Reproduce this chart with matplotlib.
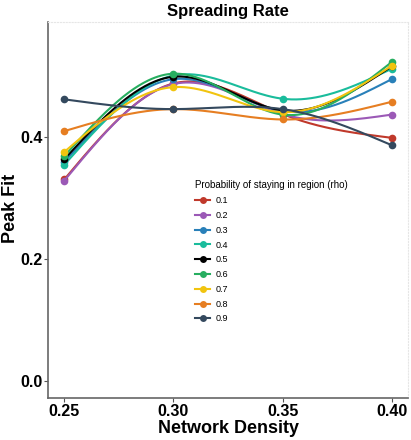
import numpy as np
import matplotlib
matplotlib.use('Agg')
from matplotlib import pyplot as plt
from matplotlib.lines import Line2D

plt.rcParams['font.family'] = ['Liberation Sans', 'DejaVu Sans']

density = [0.25, 0.30, 0.35, 0.40]
rho_labels = ['0.1', '0.2', '0.3', '0.4', '0.5', '0.6', '0.7', '0.8', '0.9']
colors = ['#C0392B', '#9B59B6', '#2980B9', '#1ABC9C', '#000000',
          '#27AE60', '#F1C40F', '#E67E22', '#34495E']

peak_01 = [0.330, 0.487, 0.437, 0.398]
peak_02 = [0.328, 0.486, 0.437, 0.436]
peak_03 = [0.359, 0.494, 0.442, 0.494]
peak_04 = [0.354, 0.500, 0.462, 0.511]
peak_05 = [0.363, 0.498, 0.443, 0.515]
peak_06 = [0.368, 0.503, 0.436, 0.522]
peak_07 = [0.375, 0.481, 0.440, 0.516]
peak_08 = [0.409, 0.445, 0.428, 0.457]
peak_09 = [0.461, 0.445, 0.445, 0.386]

series = [peak_01, peak_02, peak_03, peak_04, peak_05,
          peak_06, peak_07, peak_08, peak_09]


def natural_spline(x, y, n=200):
    """smooth path through the points (natural cubic spline)"""
    x = np.asarray(x, float)
    y = np.asarray(y, float)
    k = len(x)
    h = np.diff(x)
    A = np.zeros((k, k))
    b = np.zeros(k)
    A[0, 0] = A[-1, -1] = 1
    for i in range(1, k - 1):
        A[i, i - 1] = h[i - 1]
        A[i, i] = 2 * (h[i - 1] + h[i])
        A[i, i + 1] = h[i]
        b[i] = 6 * ((y[i + 1] - y[i]) / h[i] - (y[i] - y[i - 1]) / h[i - 1])
    m = np.linalg.solve(A, b)
    xs = np.linspace(x[0], x[-1], n)
    idx = np.clip(np.searchsorted(x, xs) - 1, 0, k - 2)
    t0 = xs - x[idx]
    t1 = x[idx + 1] - xs
    hi = h[idx]
    ys = (m[idx] * t1 ** 3 / (6 * hi) + m[idx + 1] * t0 ** 3 / (6 * hi)
          + (y[idx] / hi - m[idx] * hi / 6) * t1
          + (y[idx + 1] / hi - m[idx + 1] * hi / 6) * t0)
    return xs, ys


fig = plt.figure(figsize=(4.11, 4.40), dpi=100)
ax = fig.add_axes([0.1168, 0.0955, 0.876, 0.855])

for vals, color in zip(series, colors):
    xs, ys = natural_spline(density, vals)
    ax.plot(xs, ys, color=color, lw=1.5, solid_capstyle='round')
    ax.plot(density, vals, 'o', color=color, ms=5.5, mew=0)

ax.set_xlim(0.2425, 0.4075)
ax.set_ylim(-0.028, 0.588)
ax.set_xticks(density)
ax.set_xticklabels(['0.25', '0.30', '0.35', '0.40'])
ax.set_yticks([0.0, 0.2, 0.4])
ax.set_yticklabels(['0.0', '0.2', '0.4'])
ax.tick_params(labelsize=11.5, length=3, width=0.8, color='#555555', pad=1)
for lab in ax.get_xticklabels() + ax.get_yticklabels():
    lab.set_fontweight('bold')

for side in ['left', 'bottom']:
    ax.spines[side].set_color('#666666')
    ax.spines[side].set_linewidth(1.2)
for side in ['top', 'right']:
    ax.spines[side].set_color('#e6e6e6')
    ax.spines[side].set_linestyle(':')
    ax.spines[side].set_linewidth(0.8)

ax.set_title('Spreading Rate', fontsize=12, fontweight='bold', pad=4)
ax.set_xlabel('Network Density', fontsize=13, fontweight='bold', labelpad=1)
ax.set_ylabel('Peak Fit', fontsize=13, fontweight='bold')
ax.yaxis.set_label_coords(-0.08, 0.503)

handles = [Line2D([], [], color=c, lw=1.5, marker='o', ms=5, mew=0)
           for c in colors]
leg = ax.legend(handles, rho_labels, title='Probability of staying in region (rho)',
                loc='upper left', bbox_to_anchor=(0.392, 0.595), frameon=False,
                fontsize=6.5, title_fontsize=7, handlelength=1.6,
                labelspacing=0.64, alignment='left', borderpad=0.2,
                handletextpad=0.6)

fig.savefig('out.png', dpi=100)
